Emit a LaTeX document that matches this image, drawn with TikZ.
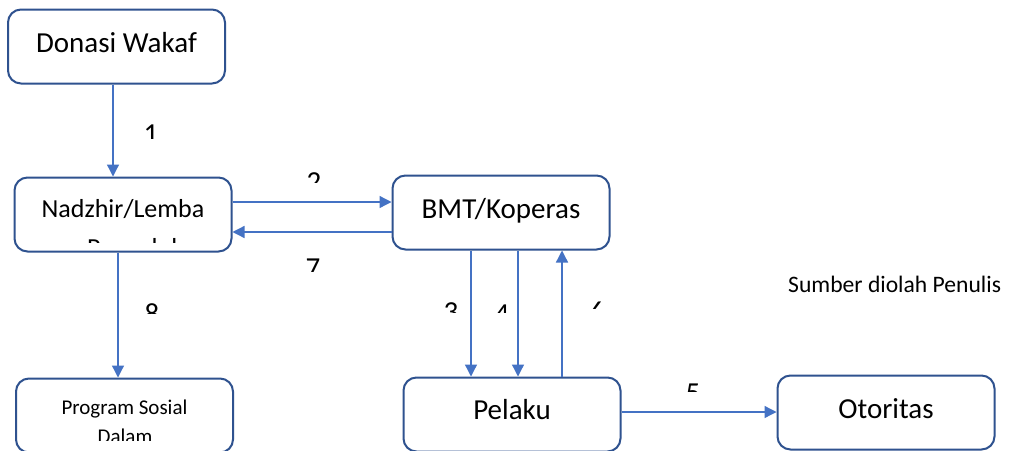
\documentclass[tikz,border=0pt]{standalone}
\usepackage{fontspec}
\setmainfont{Carlito}
\usetikzlibrary{arrows.meta}
\definecolor{boxblue}{RGB}{47,82,143}
\definecolor{arrblue}{RGB}{68,114,196}
\begin{document}
\begin{tikzpicture}[x=1pt,y=-1pt,
  box/.style={draw=boxblue, line width=2pt, rounded corners=13pt, fill=white, inner sep=0pt, minimum width=217pt, minimum height=74pt},
  txt/.style={inner sep=0pt, anchor=base},
  bigfont/.style={font=\fontsize{29}{34}\selectfont},
  nadfont/.style={font=\fontsize{26}{32}\selectfont},
  smallfont/.style={font=\fontsize{21}{25}\selectfont},
  srcfont/.style={font=\fontsize{23.6}{28}\selectfont},
  arr/.style={draw=arrblue, line width=1.3pt, -{Triangle[length=12pt,width=12pt]}}]
\clip (0,0) rectangle (1012,450);
\fill[white] (0,0) rectangle (1012,450);
% boxes
\node[box] (don) at (116.5,46.5) {};
\node[box] (nad) at (123,214.5) {};
\node[box] (bmt) at (501,212.5) {};
\node[box] (prog) at (124.5,415.5) {};
\node[box] (pel) at (512,414.5) {};
\node[box] (oto) at (886,412.5) {};
% box texts
\node[txt,bigfont] (donT) at (116.5,52) {Donasi Wakaf};
\node[txt,nadfont] (nadT) at (123,217) {Nadzhir/Lemba};
\begin{scope}
\clip (20,225) rectangle (226,242);
\node[txt,nadfont,anchor=base west] (nadT2) at (87,256) {Pengelola};
\end{scope}
\node[txt,bigfont] (bmtT) at (501,218) {BMT/Koperas};
\node[txt,smallfont] (progT) at (124.5,414) {Program Sosial};
\begin{scope}
\clip (20,420) rectangle (226,440);
\node[txt,smallfont] (progT2) at (125,443) {Dalam};
\end{scope}
\node[txt,bigfont] (pelT) at (512,419) {Pelaku};
\node[txt,bigfont] (otoT) at (886,418) {Otoritas};
\node[txt,srcfont,anchor=base west] (src) at (788,292) {Sumber diolah Penulis};
% x positions of vertical connectors
\coordinate (x1) at (113,0);
\coordinate (x8) at (118,0);
\coordinate (x3) at (471,0);
\coordinate (x4) at (518,0);
\coordinate (x6) at (562,0);
\coordinate (y2) at (0,202);
\coordinate (y7) at (0,232);
\coordinate (y5) at (0,412);
% connectors
\draw[arr] (don.south -| x1) -- (nad.north -| x1);
\draw[arr] (nad.east |- y2) -- (bmt.west |- y2);
\draw[arr] (bmt.west |- y7) -- (nad.east |- y7);
\draw[arr] (nad.south -| x8) -- (prog.north -| x8);
\draw[arr] (bmt.south -| x3) -- (pel.north -| x3);
\draw[arr] (bmt.south -| x4) -- (pel.north -| x4);
\draw[arr] (pel.north -| x6) -- (bmt.south -| x6);
\draw[arr] (pel.east |- y5) -- (oto.west |- y5);
% clipped number labels
\begin{scope}\clip (130,110) rectangle (175,138);
\node[txt,bigfont] (n1) at (151,143) {1};\end{scope}
\begin{scope}\clip (290,160) rectangle (340,182);
\node[txt,bigfont] (n2) at (314,191) {2};\end{scope}
\begin{scope}\clip (290,250) rectangle (340,271);
\node[txt,bigfont] (n7) at (313,277) {7};\end{scope}
\begin{scope}\clip (130,295) rectangle (175,313);
\node[txt,bigfont] (n8) at (152,323) {8};\end{scope}
\begin{scope}\clip (435,295) rectangle (466,312);
\node[txt,bigfont] (n3) at (451,321) {3};\end{scope}
\begin{scope}\clip (486,295) rectangle (514,312);
\node[txt,bigfont] (n4) at (502,323) {4};\end{scope}
\begin{scope}\clip (580,295) rectangle (615,308);
\node[txt,bigfont] (n6) at (597,321) {6};\end{scope}
\begin{scope}\clip (675,375) rectangle (712,391);
\node[txt,bigfont] (n5) at (693,402) {5};\end{scope}
\end{tikzpicture}
\end{document}
